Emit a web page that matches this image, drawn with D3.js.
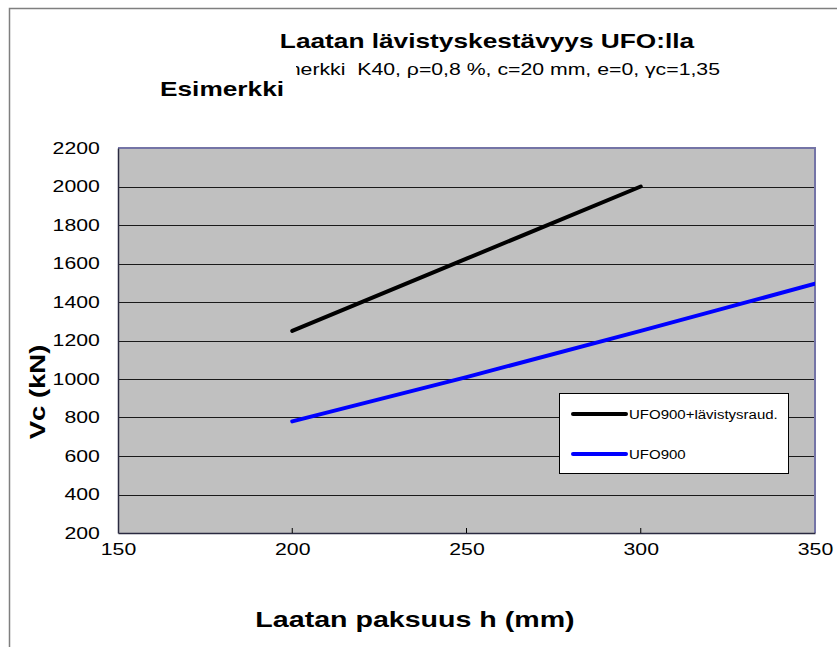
<!DOCTYPE html>
<html><head><meta charset="utf-8">
<script src="https://cdn.jsdelivr.net/npm/d3@7"></script>
<style>body{margin:0;background:#fff;} svg{display:block;font-family:Arial,"Liberation Sans",sans-serif;} text{white-space:pre;}</style>
</head><body>
<svg id="c" width="837" height="647"></svg>
<script>
const xTicks = [150, 200, 250, 300, 350];
const yTicks = [200, 400, 600, 800, 1000, 1200, 1400, 1600, 1800, 2000, 2200];
const seriesNames = ["UFO900+lävistysraud.", "UFO900"];
const seriesColors = ["#000000", "#0000FF"];
const xBlack = [200, 250, 300];
const yBlack = [1250, 1625, 2000];
const xBlue = [200, 250, 300, 350];
const yBlue = [780, 1010, 1250, 1495];
const title = "Laatan lävistyskestävyys UFO:lla";
const subtitle = "Esimerkki  K40, ρ=0,8 %, c=20 mm, e=0, γc=1,35";
const note = "Esimerkki";
const xLabel = "Laatan paksuus h (mm)";
const yLabel = "Vc (kN)";

const SX = 1.25; // horizontal text stretch seen in the reference
const FONT = "Arial, 'Liberation Sans', sans-serif";
const svg = d3.select("#c");
const L = 118, R = 815, T = 148, B = 533;
const x = d3.scaleLinear().domain([150, 350]).range([L, R]);
const y = d3.scaleLinear().domain([200, 2200]).range([B, T]);

// outer frame
svg.append("rect").attr("x", 9.5).attr("y", 8.5).attr("width", 900).attr("height", 700)
  .attr("fill", "none").attr("stroke", "#7f7f7f").attr("stroke-width", 1.5);

// plot area
svg.append("rect").attr("x", L).attr("y", T).attr("width", R - L).attr("height", B - T).attr("fill", "#C0C0C0");

// gridlines
svg.append("g").selectAll("line").data(yTicks.slice(1, -1)).join("line")
  .attr("x1", L).attr("x2", R).attr("y1", d => Math.round(y(d)) + 0.5).attr("y2", d => Math.round(y(d)) + 0.5)
  .attr("stroke", "#1a1a1a").attr("stroke-width", 1);

// plot border top/right
svg.append("path").attr("d", `M${L},${T}H${R}V${B}`).attr("fill", "none")
  .attr("stroke", "#7474a6").attr("stroke-width", 2);

// axes
const xAxis = d3.axisBottom(x).tickValues(xTicks).tickSize(0).tickPadding(10).tickFormat(d3.format("d"));
const gx = svg.append("g").attr("transform", `translate(0,${B})`).call(xAxis);
gx.select(".domain").attr("stroke", "#2a2a40").attr("stroke-width", 1.5);
gx.selectAll("text").attr("font-size", 17).attr("fill", "#000").attr("font-family", FONT)
  .attr("transform", `scale(${SX},1)`);
// inner ticks
svg.append("g").selectAll("line").data(xTicks.slice(1, -1)).join("line")
  .attr("x1", d => x(d)).attr("x2", d => x(d)).attr("y1", B).attr("y2", B - 5)
  .attr("stroke", "#000").attr("stroke-width", 1);

const yAxis = d3.axisLeft(y).tickValues(yTicks).tickSize(0).tickPadding(14.5).tickFormat(d3.format("d"));
const gy = svg.append("g").attr("transform", `translate(${L},0)`).call(yAxis);
gy.select(".domain").attr("stroke", "#2a2a40").attr("stroke-width", 1.5);
gy.selectAll("text").attr("font-size", 17).attr("fill", "#000").attr("font-family", FONT)
  .attr("transform", `scale(${SX},1)`);

// clip
svg.append("clipPath").attr("id", "clip").append("rect").attr("x", L).attr("y", T - 5).attr("width", R - L).attr("height", B - T + 10);

const line = d3.line().x(d => x(d[0])).y(d => y(d[1]));
const data = [d3.zip(xBlack, yBlack), d3.zip(xBlue, yBlue)];
svg.append("g").attr("clip-path", "url(#clip)").selectAll("path").data(data).join("path")
  .attr("d", line).attr("fill", "none").attr("stroke", (d, i) => seriesColors[i])
  .attr("stroke-width", 4).attr("stroke-linecap", "round");

// legend
const lg = svg.append("g");
lg.append("rect").attr("x", 559.5).attr("y", 393.5).attr("width", 229).attr("height", 80)
  .attr("fill", "#fff").attr("stroke", "#000").attr("stroke-width", 1);
seriesNames.forEach((n, i) => {
  const yy = 414 + i * 40;
  lg.append("line").attr("x1", 573).attr("x2", 626).attr("y1", yy).attr("y2", yy)
    .attr("stroke", seriesColors[i]).attr("stroke-width", 4).attr("stroke-linecap", "round");
  lg.append("text").attr("transform", `translate(629,${yy + 4.5}) scale(${SX},1)`)
    .attr("font-size", 12).text(n);
});

// titles
svg.append("text").attr("transform", `translate(487,48) scale(${SX},1)`).attr("text-anchor", "middle")
  .attr("font-size", 21).attr("font-weight", "bold").text(title);
svg.append("text").attr("transform", `translate(720,75) scale(${SX},1)`).attr("text-anchor", "end")
  .attr("font-size", 17).text(subtitle);
svg.append("rect").attr("x", 150).attr("y", 58).attr("width", 146).attr("height", 44).attr("fill", "#fff");
svg.append("text").attr("transform", `translate(160,96) scale(${SX},1)`).attr("font-size", 21)
  .attr("font-weight", "bold").text(note);

svg.append("text").attr("transform", `translate(415,627) scale(1.3,1)`).attr("text-anchor", "middle")
  .attr("font-size", 22).attr("font-weight", "bold").text(xLabel);
svg.append("text").attr("transform", `translate(45,392) rotate(-90) scale(${SX},1)`).attr("text-anchor", "middle")
  .attr("font-size", 22).attr("font-weight", "bold").text(yLabel);
</script>
</body></html>
